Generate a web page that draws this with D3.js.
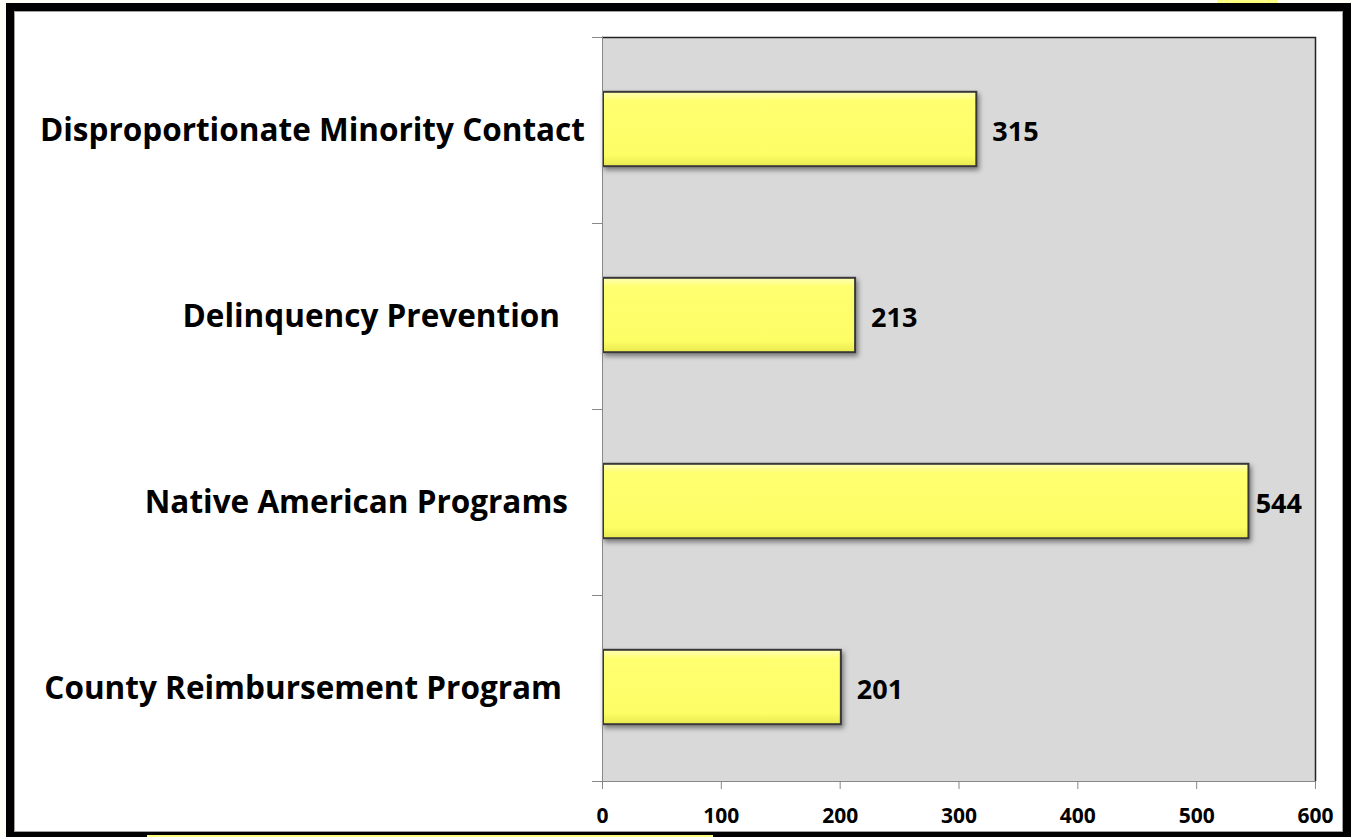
<!DOCTYPE html>
<html>
<head>
<meta charset="utf-8">
<script src="https://cdn.jsdelivr.net/npm/d3@7"></script>
<style>
  html, body { margin: 0; padding: 0; background: #fffff8; }
  svg { display: block; }
  text { font-family: "Open Sans", Lato, sans-serif; font-weight: bold; fill: #000; }
</style>
</head>
<body>
<svg id="chart" width="1352" height="837"></svg>
<script>
"use strict";

// category labels, top to bottom
let categories = [
    "Disproportionate Minority Contact",
    "Delinquency Prevention",
    "Native American Programs",
    "County Reimbursement Program"
];

let values = [315, 213, 544, 201];

let xTicks = [0, 100, 200, 300, 400, 500, 600];

// labels in the original don't line up on the right, nudge them a bit
let labelShift = [0, -25, -17, -23];

let svg = d3.select("#chart");

let plot = { left: 602, top: 37, right: 1315, bottom: 781 };

// white page + black frame
svg.append("rect")
    .attr("x", 10).attr("y", 7)
    .attr("width", 1337).attr("height", 828)
    .attr("fill", "#fff")
    .attr("stroke", "#000")
    .attr("stroke-width", 8);

svg.append("rect")
    .attr("x", 14.5).attr("y", 11.5)
    .attr("width", 1342.5 - 14.5).attr("height", 831.5 - 11.5)
    .attr("fill", "none")
    .attr("stroke", "#a0a0a0")
    .attr("stroke-width", 1);

// little bits of yellow sticking out from behind the frame
svg.append("rect").attr("x", 1217).attr("y", 0).attr("width", 60).attr("height", 3).attr("fill", "#ffff80");
svg.append("rect").attr("x", 147).attr("y", 835).attr("width", 566).attr("height", 2).attr("fill", "#ffff80");

let x = d3.scaleLinear()
    .domain([0, 600])
    .range([plot.left, plot.right]);

let y = d3.scaleBand()
    .domain(categories)
    .range([plot.top, plot.bottom])
    .paddingInner(0.6)
    .paddingOuter(0.3);

let defs = svg.append("defs");

let grad = defs.append("linearGradient")
    .attr("id", "barFill")
    .attr("x1", 0).attr("y1", 0).attr("x2", 0).attr("y2", 1);
grad.append("stop").attr("offset", "0%").attr("stop-color", "#ffffb8");
grad.append("stop").attr("offset", "12%").attr("stop-color", "#ffff70");
grad.append("stop").attr("offset", "85%").attr("stop-color", "#fdfd66");
grad.append("stop").attr("offset", "100%").attr("stop-color", "#e8e850");

let shadow = defs.append("filter")
    .attr("id", "shadow")
    .attr("x", "-5%").attr("y", "-20%")
    .attr("width", "115%").attr("height", "160%");
shadow.append("feDropShadow")
    .attr("dx", 2).attr("dy", 3)
    .attr("stdDeviation", 2.5)
    .attr("flood-color", "#000")
    .attr("flood-opacity", 0.45);

// plot area
svg.append("rect")
    .attr("x", plot.left).attr("y", plot.top)
    .attr("width", plot.right - plot.left)
    .attr("height", plot.bottom - plot.top)
    .attr("fill", "#d9d9d9");

// top and right edges of plot area
svg.append("path")
    .attr("d", `M${plot.left},${plot.top + 0.5}H${plot.right + 0.5}V${plot.bottom}`)
    .attr("fill", "none")
    .attr("stroke", "#222")
    .attr("stroke-width", 1.5);

// bars
svg.append("g")
    .selectAll("rect")
    .data(values)
    .enter().append("rect")
    .attr("x", x(0) + 1)
    .attr("y", (d, i) => y(categories[i]) - 1)
    .attr("width", d => x(d) - x(0) - 1)
    .attr("height", y.bandwidth())
    .attr("fill", "url(#barFill)")
    .attr("stroke", "#383838")
    .attr("stroke-width", 2)
    .attr("filter", "url(#shadow)");

// value labels (kept inside the plot area like excel does)
svg.append("g")
    .selectAll("text")
    .data(values)
    .enter().append("text")
    .attr("y", (d, i) => y(categories[i]) + y.bandwidth() / 2)
    .attr("dy", "0.42em")
    .style("font-size", "27px")
    .text(d => d)
    .attr("x", function(d) {
        let w = this.getComputedTextLength();
        return Math.min(x(d) + 16, plot.right - 13 - w);
    });

// x axis
let xAxis = svg.append("g")
    .attr("transform", `translate(0,${plot.bottom})`)
    .call(d3.axisBottom(x).tickValues(xTicks).tickSize(8).tickSizeOuter(0));
xAxis.select(".domain")
    .attr("d", `M${plot.left - 10},0.5H${plot.right}`)
    .attr("stroke", "#888");
xAxis.selectAll(".tick line").attr("stroke", "#888");
xAxis.selectAll(".tick text")
    .attr("y", 42)
    .attr("dy", 0)
    .style("font-family", "'Open Sans', sans-serif")
    .style("font-weight", "bold")
    .style("font-size", "21px")
    .style("fill", "#000");

// y axis: ticks sit between categories
let boundaries = categories.map(c => y(c) - y.step() * 0.3).concat([plot.bottom]);
let yAxis = svg.append("g");
yAxis.append("line")
    .attr("x1", plot.left + 0.5).attr("x2", plot.left + 0.5)
    .attr("y1", plot.top - 0.5).attr("y2", plot.bottom)
    .attr("stroke", "#888");
yAxis.selectAll(".ytick")
    .data(boundaries)
    .enter().append("line")
    .attr("class", "ytick")
    .attr("x1", plot.left - 10).attr("x2", plot.left)
    .attr("y1", d => Math.round(d) + 0.5)
    .attr("y2", d => Math.round(d) + 0.5)
    .attr("stroke", "#888");

// category labels
yAxis.selectAll(".ylabel")
    .data(categories)
    .enter().append("text")
    .attr("class", "ylabel")
    .attr("x", (d, i) => plot.left - 17 + labelShift[i])
    .attr("y", d => y(d) + y.bandwidth() / 2)
    .attr("dy", "0.34em")
    .attr("text-anchor", "end")
    .style("font-size", "31.5px")
    .text(d => d);
</script>
</body>
</html>
